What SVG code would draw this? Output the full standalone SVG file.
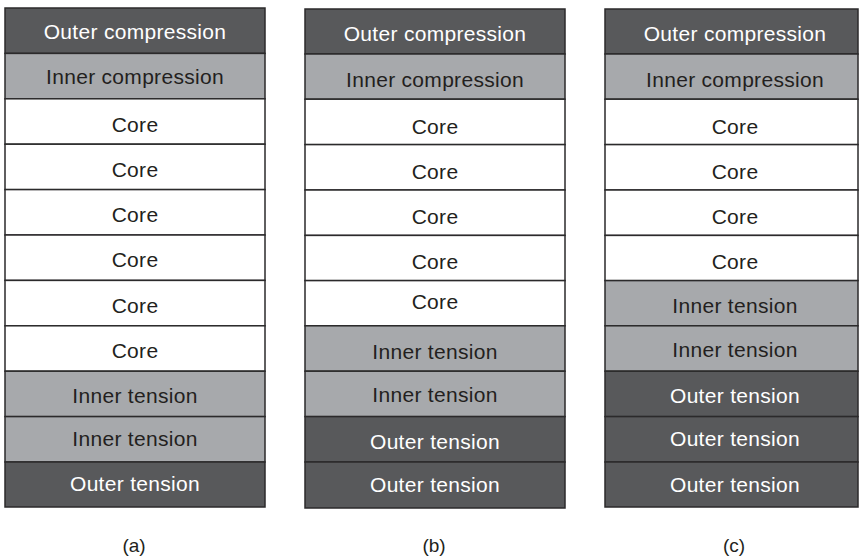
<svg xmlns="http://www.w3.org/2000/svg" width="860" height="557" viewBox="0 0 860 557">
  <style>
    .cell { stroke: #2b2a2b; stroke-width: 1.5; }
    .outer { fill: #58595b; }
    .inner { fill: #a7a9ac; }
    .core { fill: #ffffff; }
    text { font-family: "Liberation Sans", Arial, sans-serif; font-size: 21px; letter-spacing: 0.3px; text-anchor: middle; }
    .lt { fill: #ffffff; }
    .dk { fill: #231f20; }
    .cap { font-size: 19px; letter-spacing: 0; fill: #231f20; }
  </style>
  <rect width="860" height="557" fill="#ffffff"/>

  <!-- Stack (a) -->
  <g id="stack-a">
    <rect class="cell outer" x="5" y="8" width="260" height="45.4"/>
    <rect class="cell inner" x="5" y="53.4" width="260" height="45.4"/>
    <rect class="cell core" x="5" y="98.8" width="260" height="45.4"/>
    <rect class="cell core" x="5" y="144.2" width="260" height="45.4"/>
    <rect class="cell core" x="5" y="189.6" width="260" height="45.4"/>
    <rect class="cell core" x="5" y="235" width="260" height="45.4"/>
    <rect class="cell core" x="5" y="280.4" width="260" height="45.4"/>
    <rect class="cell core" x="5" y="325.8" width="260" height="45.4"/>
    <rect class="cell inner" x="5" y="371.2" width="260" height="45.4"/>
    <rect class="cell inner" x="5" y="416.6" width="260" height="45.4"/>
    <rect class="cell outer" x="5" y="462" width="260" height="45"/>
    <text class="lt" x="135" y="38.5">Outer compression</text>
    <text class="dk" x="135" y="83.5">Inner compression</text>
    <text class="dk" x="135" y="131.5">Core</text>
    <text class="dk" x="135" y="176.5">Core</text>
    <text class="dk" x="135" y="221.5">Core</text>
    <text class="dk" x="135" y="266.5">Core</text>
    <text class="dk" x="135" y="312.5">Core</text>
    <text class="dk" x="135" y="357.5">Core</text>
    <text class="dk" x="135" y="402.5">Inner tension</text>
    <text class="dk" x="135" y="445.5">Inner tension</text>
    <text class="lt" x="135" y="490.5">Outer tension</text>
    <text class="cap" x="134" y="552">(a)</text>
  </g>

  <!-- Stack (b) -->
  <g id="stack-b">
    <rect class="cell outer" x="305" y="9" width="260" height="45"/>
    <rect class="cell inner" x="305" y="54" width="260" height="45.2"/>
    <rect class="cell core" x="305" y="99.2" width="260" height="45.4"/>
    <rect class="cell core" x="305" y="144.6" width="260" height="45.4"/>
    <rect class="cell core" x="305" y="190" width="260" height="45.4"/>
    <rect class="cell core" x="305" y="235.4" width="260" height="45.2"/>
    <rect class="cell core" x="305" y="280.6" width="260" height="45.2"/>
    <rect class="cell inner" x="305" y="325.8" width="260" height="45.4"/>
    <rect class="cell inner" x="305" y="371.2" width="260" height="45.4"/>
    <rect class="cell outer" x="305" y="416.6" width="260" height="45.4"/>
    <rect class="cell outer" x="305" y="462" width="260" height="46"/>
    <text class="lt" x="435" y="40.5">Outer compression</text>
    <text class="dk" x="435" y="86.5">Inner compression</text>
    <text class="dk" x="435" y="133.5">Core</text>
    <text class="dk" x="435" y="178.5">Core</text>
    <text class="dk" x="435" y="223.5">Core</text>
    <text class="dk" x="435" y="268.5">Core</text>
    <text class="dk" x="435" y="308.5">Core</text>
    <text class="dk" x="435" y="358.5">Inner tension</text>
    <text class="dk" x="435" y="401.5">Inner tension</text>
    <text class="lt" x="435" y="448.5">Outer tension</text>
    <text class="lt" x="435" y="491.5">Outer tension</text>
    <text class="cap" x="434" y="552">(b)</text>
  </g>

  <!-- Stack (c) -->
  <g id="stack-c">
    <rect class="cell outer" x="605" y="9" width="253" height="45"/>
    <rect class="cell inner" x="605" y="54" width="253" height="45.2"/>
    <rect class="cell core" x="605" y="99.2" width="253" height="45.4"/>
    <rect class="cell core" x="605" y="144.6" width="253" height="45.4"/>
    <rect class="cell core" x="605" y="190" width="253" height="45.4"/>
    <rect class="cell core" x="605" y="235.4" width="253" height="45.2"/>
    <rect class="cell inner" x="605" y="280.6" width="253" height="45.2"/>
    <rect class="cell inner" x="605" y="325.8" width="253" height="45.4"/>
    <rect class="cell outer" x="605" y="371.2" width="253" height="45.4"/>
    <rect class="cell outer" x="605" y="416.6" width="253" height="45.4"/>
    <rect class="cell outer" x="605" y="462" width="253" height="45"/>
    <text class="lt" x="735" y="40.5">Outer compression</text>
    <text class="dk" x="735" y="86.5">Inner compression</text>
    <text class="dk" x="735" y="133.5">Core</text>
    <text class="dk" x="735" y="178.5">Core</text>
    <text class="dk" x="735" y="223.5">Core</text>
    <text class="dk" x="735" y="268.5">Core</text>
    <text class="dk" x="735" y="312.5">Inner tension</text>
    <text class="dk" x="735" y="356.5">Inner tension</text>
    <text class="lt" x="735" y="402.5">Outer tension</text>
    <text class="lt" x="735" y="445.5">Outer tension</text>
    <text class="lt" x="735" y="491.5">Outer tension</text>
    <text class="cap" x="734" y="552">(c)</text>
  </g>

  <g id="connectors"/>
</svg>
